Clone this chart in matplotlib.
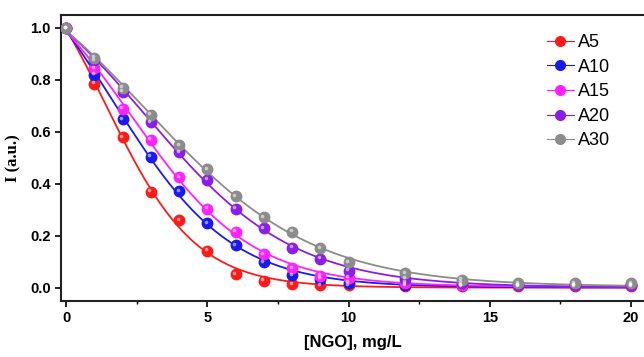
import numpy as np
import matplotlib
matplotlib.use("Agg")
import matplotlib.pyplot as plt
from matplotlib.ticker import MultipleLocator

# ---- data ----
x_ngo = [0, 1, 2, 3, 4, 5, 6, 7, 8, 9, 10, 12, 14, 16, 18, 20]
labels = ["A5", "A10", "A15", "A20", "A30"]
colors = ["#ff1a1a", "#1a1aee", "#ff22ff", "#8a1ee6", "#8c8c8c"]
a5  = [1.0, 0.785, 0.58, 0.37, 0.26, 0.143, 0.054, 0.028, 0.015, 0.01, 0.01, 0.008, 0.006, 0.006, 0.006, 0.006]
a10 = [1.0, 0.82, 0.648, 0.505, 0.373, 0.25, 0.165, 0.10, 0.05, 0.035, 0.02, 0.012, 0.01, 0.01, 0.01, 0.01]
a15 = [1.0, 0.845, 0.69, 0.57, 0.425, 0.305, 0.217, 0.13, 0.075, 0.047, 0.04, 0.02, 0.01, 0.01, 0.01, 0.01]
a20 = [1.0, 0.875, 0.755, 0.638, 0.523, 0.417, 0.305, 0.23, 0.155, 0.113, 0.066, 0.035, 0.02, 0.01, 0.01, 0.01]
a30 = [1.0, 0.886, 0.77, 0.667, 0.55, 0.458, 0.354, 0.273, 0.217, 0.152, 0.10, 0.057, 0.032, 0.018, 0.018, 0.018]
series = [a5, a10, a15, a20, a30]

x_ticks = [0, 5, 10, 15, 20]
y_ticks = [0.0, 0.2, 0.4, 0.6, 0.8, 1.0]


def boltzmann_fit(x, y):
    """Least-squares Boltzmann fit (grid over x0, dx; linear solve for A1, A2)."""
    x = np.asarray(x, float)
    y = np.asarray(y, float)
    best = None
    for x0 in np.arange(-2, 10, 0.05):
        for dx in np.arange(0.3, 6, 0.05):
            s = 1.0 / (1.0 + np.exp((x - x0) / dx))
            M = np.column_stack([s, 1 - s])
            coef, *_ = np.linalg.lstsq(M, y, rcond=None)
            r = np.sum((M @ coef - y) ** 2)
            if best is None or r < best[0]:
                best = (r, x0, dx, coef)
    _, x0, dx, (a1, a2) = best
    return lambda t: a2 + (a1 - a2) / (1.0 + np.exp((t - x0) / dx))


plt.rcParams["font.family"] = ["Liberation Sans", "DejaVu Sans"]
fig = plt.figure(figsize=(6.44, 3.57), dpi=100)
ax = fig.add_axes([61 / 644, 0.157, 583 / 644, 0.801])

offset = matplotlib.transforms.ScaledTranslation(-1.0 / 72, 1.0 / 72, fig.dpi_scale_trans)
xf = np.linspace(0, 20, 400)
handles = []
for vals, c, lab in zip(series, colors, labels):
    f = boltzmann_fit(x_ngo, vals)
    ax.plot(xf, f(xf), color=c, lw=1.3, zorder=2)
    ax.plot(x_ngo, vals, "o", ms=7.5, color=c, mec=c, zorder=3)
    ax.plot(x_ngo, vals, "o", ms=2.6, color="white", alpha=0.55, mew=0,
            zorder=4, transform=ax.transData + offset)
    h, = ax.plot([], [], "-o", color=c, lw=0.8, ms=7)
    handles.append(h)

leg = ax.legend(handles, labels, loc="upper left", bbox_to_anchor=(0.805, 0.99),
                frameon=False, fontsize=13, handlelength=1.5, handletextpad=0.25,
                labelspacing=0.42)

ax.set_xlim(-0.177, 20.46)
ax.set_ylim(-0.05, 1.05)
ax.set_xticks(x_ticks)
ax.set_yticks(y_ticks)
ax.xaxis.set_minor_locator(MultipleLocator(2.5))
ax.set_yticklabels([f"{v:.1f}" for v in y_ticks])
ax.tick_params(axis="both", which="major", direction="out", length=4, width=1.2,
               labelsize=10.5)
ax.tick_params(axis="x", which="minor", direction="out", length=2.5, width=1)
for lab in ax.get_xticklabels() + ax.get_yticklabels():
    lab.set_fontweight("bold")
for s in ["left", "bottom", "top"]:
    ax.spines[s].set_linewidth(1.5)
    ax.spines[s].set_color("#222222")
ax.spines["right"].set_visible(False)

ax.set_xlabel("[NGO], mg/L", fontsize=12, fontweight="bold", labelpad=7)
ax.set_ylabel("I (a.u.)", fontsize=12, fontweight="bold",
              family=["Liberation Serif", "DejaVu Serif"], labelpad=6)

fig.savefig("out.png", dpi=100)
